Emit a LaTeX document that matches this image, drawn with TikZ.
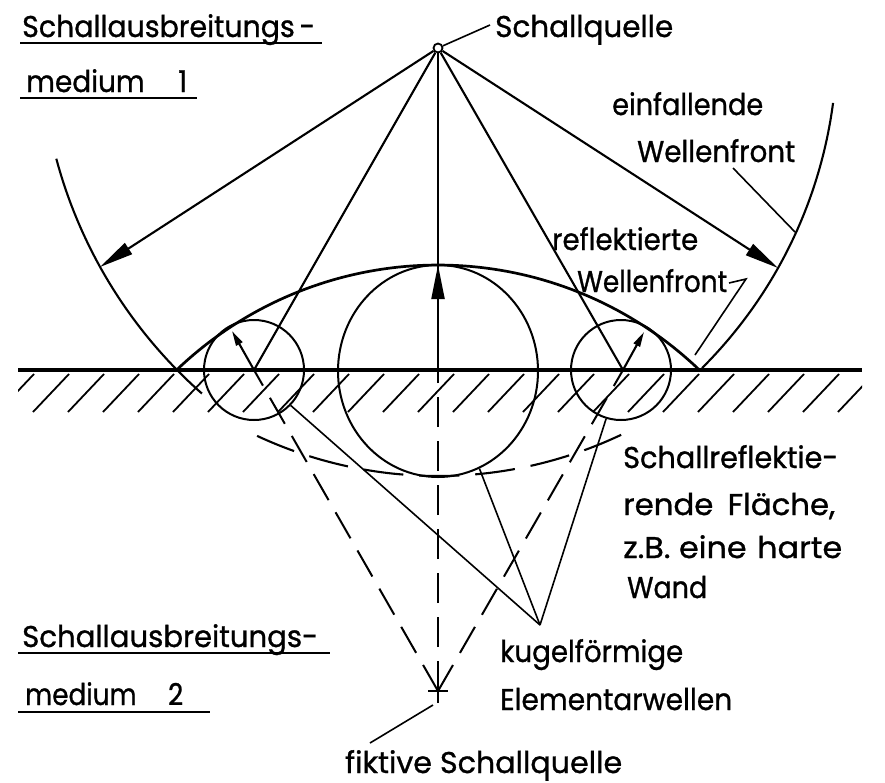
\documentclass[tikz,border=0pt]{standalone}
\usepackage{fontspec}
\setmainfont{Poppins}[FakeBold=1]
\usetikzlibrary{arrows.meta,shapes.geometric}
\newcommand\fitw[2]{\resizebox{#1pt}{\height}{#2}}
\begin{document}
\begin{tikzpicture}[x=1pt,y=-1pt,
  ln/.style={line width=2.1pt},
  thin/.style={line width=1.6pt},
  bigarrow/.style={-{Triangle[length=34pt,width=13pt]}},
  smallarrow/.style={-{Triangle[length=15pt,width=7pt]}},
  dsh/.style={line width=2pt, dash pattern=on 30pt off 14pt},
  lbl/.style={anchor=base west, inner sep=0pt, font=\fontsize{30}{36}\selectfont},
  wave/.style={circle, draw, line width=2pt, inner sep=0pt},
]
\useasboundingbox (0,0) rectangle (885,782);
\fill[white] (0,0) rectangle (885,782);

% key points
\coordinate (F) at (438,691);
\coordinate (L) at (254,370);
\coordinate (M) at (438,370);
\coordinate (R) at (623,370);
\coordinate (W1) at (18,370);
\coordinate (W2) at (862,370);
\coordinate (AL) at (100,267);
\coordinate (AR) at (778,268);
\coordinate (TM) at (438,265);
\coordinate (RL) at (232,331);
\coordinate (RR) at (644,332);
\coordinate (K) at (540,625);

% hatching
\begin{scope}
\clip (18,372) rectangle (862,414);
\foreach \x in {-2,33,...,860} \draw[line width=1.8pt] (\x,412) -- (\x+36,374);
\end{scope}

% wall
\draw[line width=3.8pt] (W1) -- (W2);

% elementary waves
\node[wave, minimum size=100pt] (c1) at (254,370) {};
\node[ellipse, draw, line width=2pt, inner sep=0pt, minimum width=200pt, minimum height=212pt] (c2) at (438,371) {};
\node[wave, minimum size=100pt] (c3) at (621,370) {};

% incident wavefront
\draw[ln] plot[domain=165:131.4, samples=60] ({518+478*cos(\x)},{35+478*sin(\x)});
\draw[ln] plot[domain=7.5:45.1, samples=60] ({378+459*cos(\x)},{43+459*sin(\x)});

% reflected wavefront
\draw[line width=2.7pt] plot[domain=-133.7:-46.2, samples=80] ({438+378*cos(\x)},{643+378*sin(\x)});

% virtual incident front below wall
\draw[ln, dash pattern=on 40pt off 16pt] plot[domain=115:64, samples=60] ({438+428*cos(\x)},{48+428*sin(\x)});

% source and rays
\node[circle, draw, line width=1.8pt, fill=white, inner sep=0pt, minimum size=9pt] (S) at (438,48) {};
\draw[ln,bigarrow] (S) -- (AL);
\draw[ln,bigarrow] (S) -- (AR);
\draw[ln] (S) -- (L);
\draw[ln] (S) -- (R);
\draw[ln] (S) -- (M);
\draw[ln,bigarrow] (M) -- (TM);
\draw[ln,smallarrow] (L) -- (RL);
\draw[ln,smallarrow] (R) -- (RR);

% fictive rays
\draw[dsh] (F) -- (L);
\draw[dsh] (F) -- (M);
\draw[dsh] (F) -- (R);
\draw[ln] (438,703) -- (438,681);
\draw[ln] (428,691) -- (448,691);

% texts
\node[lbl] (t1) at (22,37) {\fitw{293}{Schallausbreitungs\,-}};
\draw[thin] (20,43) -- (322,43);
\node[lbl] (t2) at (26,92) {\fitw{161}{medium\hspace{36pt}1}};
\draw[thin] (20,98) -- (197,98);
\node[lbl] (sq) at (495,37) {\fitw{178}{Schallquelle}};
\node[lbl] (ein) at (612,115) {\fitw{151}{einfallende}};
\node[lbl] (wf1) at (637,162) {\fitw{158}{Wellenfront}};
\node[lbl] (ref) at (552,250) {\fitw{146}{reflektierte}};
\node[lbl] (wf2) at (577,292) {\fitw{150}{Wellenfront}};
\node[lbl] (s1) at (623,468) {\fitw{215}{Schallreflektie-}};
\node[lbl] (s2) at (623,515) {\fitw{212}{rende\hspace{14pt}Fläche,}};
\node[lbl] (s3) at (623,558) {\fitw{219}{z.B. eine\hspace{10pt}harte}};
\node[lbl] (s4) at (627,598) {\fitw{80}{Wand}};
\node[lbl] (k1) at (500,662) {\fitw{183}{kugelförmige}};
\node[lbl] (k2) at (500,710) {\fitw{232}{Elementarwellen}};
\node[lbl] (b1) at (22,647) {\fitw{296}{Schallausbreitungs-}};
\draw[thin] (18,653) -- (330,653);
\node[lbl] (b2) at (25,705) {\fitw{158}{medium\hspace{36pt}2}};
\draw[thin] (18,712) -- (210,712);
\node[lbl] (fk) at (345,773) {\fitw{277}{fiktive Schallquelle}};

% leaders
\coordinate (sqL) at (490,25);
\draw[thin] (S) -- (sqL);
\coordinate (e1) at (733,168);
\coordinate (e2) at (795,232);
\draw[thin] (e1) -- (e2);
\coordinate (r1) at (729,283);
\coordinate (r2) at (746,279);
\coordinate (r3) at (695,355);
\draw[thin] (r1) -- (r2) -- (r3);
\draw[thin] (c1.-44) -- (K);
\draw[thin] (c2.-67) -- (K);
\draw[thin] (c3.-107) -- (K);
\coordinate (f1) at (433,705);
\coordinate (f2) at (370,743);
\draw[thin] (f1) -- (f2);
\end{tikzpicture}
\end{document}
